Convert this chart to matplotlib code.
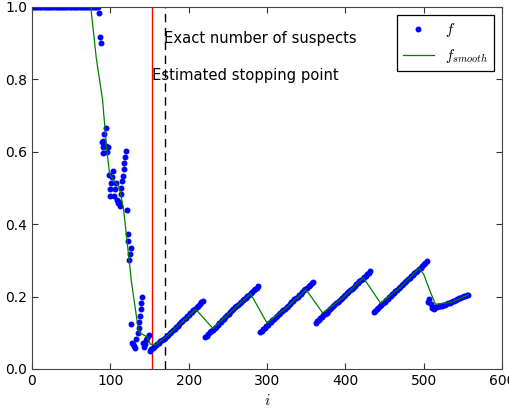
import matplotlib
matplotlib.use("Agg")
import matplotlib.pyplot as plt

# values
top_i = list(range(0, 86, 2))
top_f = [1.0] * len(top_i)

sparse_i = [85, 87, 88,
            89, 90, 90, 91, 92, 94, 95, 96, 97,
            98, 99, 100, 101, 102, 103, 105, 106, 107, 109, 110, 111, 112,
            113, 114, 115, 116, 117, 118, 119, 120, 121,
            122, 123, 124, 125, 126,
            126, 128, 129, 130, 131, 133, 135, 136, 137, 138, 139, 139, 140,
            142, 143, 144, 146, 147, 149]
sparse_f = [0.984, 0.918, 0.901,
            0.626, 0.596, 0.614, 0.629, 0.648, 0.665, 0.617, 0.600, 0.614,
            0.537, 0.479, 0.496, 0.515, 0.531, 0.548, 0.479, 0.496, 0.513, 0.467, 0.458, 0.462, 0.450,
            0.483, 0.500, 0.518, 0.534, 0.552, 0.568, 0.585, 0.603, 0.439,
            0.354, 0.373, 0.301, 0.318, 0.335,
            0.123, 0.073, 0.068, 0.064, 0.059, 0.082, 0.099, 0.114, 0.131, 0.147, 0.165, 0.183, 0.198,
            0.073, 0.062, 0.069, 0.080, 0.085, 0.094]

seg1_i = list(range(150, 219, 2))
seg1_f = [0.051, 0.054, 0.058, 0.061, 0.065, 0.068, 0.072, 0.076, 0.079, 0.083,
          0.087, 0.091, 0.095, 0.099, 0.103, 0.107, 0.111, 0.116, 0.120, 0.125,
          0.129, 0.133, 0.137, 0.141, 0.146, 0.150, 0.154, 0.158, 0.162, 0.166,
          0.170, 0.175, 0.179, 0.184, 0.188]

seg2_i = list(range(221, 290, 2))
seg2_f = [0.088, 0.092, 0.096, 0.101, 0.105, 0.109, 0.113, 0.117, 0.122, 0.126,
          0.130, 0.135, 0.139, 0.144, 0.148, 0.153, 0.157, 0.162, 0.166, 0.170,
          0.174, 0.178, 0.182, 0.186, 0.190, 0.194, 0.197, 0.201, 0.205, 0.209,
          0.213, 0.217, 0.221, 0.225, 0.229]

seg3_i = list(range(291, 360, 2))
seg3_f = [0.102, 0.106, 0.110, 0.114, 0.118, 0.122, 0.126, 0.130, 0.135, 0.139,
          0.143, 0.147, 0.151, 0.155, 0.159, 0.163, 0.167, 0.171, 0.175, 0.180,
          0.184, 0.188, 0.192, 0.196, 0.200, 0.204, 0.208, 0.213, 0.217, 0.221,
          0.225, 0.229, 0.233, 0.237, 0.241]

seg4_i = list(range(362, 433, 2))
seg4_f = [0.128, 0.132, 0.136, 0.140, 0.144, 0.148, 0.152, 0.156, 0.160, 0.165,
          0.169, 0.173, 0.177, 0.181, 0.185, 0.189, 0.193, 0.197, 0.201, 0.205,
          0.209, 0.213, 0.217, 0.221, 0.225, 0.229, 0.234, 0.238, 0.242, 0.246,
          0.250, 0.254, 0.258, 0.262, 0.266, 0.270]

seg5_i = list(range(436, 505, 2))
seg5_f = [0.157, 0.161, 0.165, 0.169, 0.173, 0.178, 0.182, 0.186, 0.190, 0.194,
          0.198, 0.202, 0.206, 0.211, 0.215, 0.219, 0.223, 0.227, 0.231, 0.235,
          0.239, 0.243, 0.248, 0.252, 0.256, 0.260, 0.264, 0.268, 0.272, 0.276,
          0.280, 0.285, 0.289, 0.293, 0.297]

blip_i = [506, 507, 509]
blip_f = [0.185, 0.192, 0.180]

seg6_i = list(range(511, 558, 2))
seg6_f = [0.168, 0.167, 0.170, 0.171, 0.173, 0.174, 0.175, 0.177, 0.178, 0.180,
          0.182, 0.183, 0.185, 0.187, 0.189, 0.191, 0.193, 0.195, 0.197, 0.199,
          0.201, 0.202, 0.204, 0.205]

smooth_i = [0, 75, 82, 90, 95.5, 99, 104, 111, 113, 117, 127, 135, 137, 147, 151, 157, 163, 170,
            190, 209, 231, 255, 279, 300, 325, 350, 371, 397, 423, 445, 470, 494,
            500, 506, 511, 515, 535, 557]
smooth_f = [1.0, 1.0, 0.86, 0.745, 0.605, 0.54, 0.522, 0.504, 0.485, 0.44, 0.24, 0.12, 0.10, 0.089,
            0.069, 0.066, 0.075, 0.087,
            0.126, 0.165, 0.112, 0.160, 0.208, 0.127, 0.170, 0.219, 0.155, 0.197, 0.252, 0.182,
            0.225, 0.278, 0.262, 0.227, 0.200, 0.179, 0.184, 0.205]

estimated_stop = 153
exact_suspects = 170

f_i = top_i + sparse_i + seg1_i + seg2_i + seg3_i + seg4_i + seg5_i + blip_i + seg6_i
f_val = top_f + sparse_f + seg1_f + seg2_f + seg3_f + seg4_f + seg5_f + blip_f + seg6_f

plt.rcParams["mathtext.fontset"] = "cm"
plt.rcParams["font.family"] = ["DejaVu Sans"]

fig = plt.figure(figsize=(5.10, 4.09), dpi=100)
ax = fig.add_axes([32 / 510, 40 / 409, 470 / 510, 362 / 409])

ax.axvline(estimated_stop, color="red", lw=1.0)
ax.axvline(exact_suspects, color="black", lw=1.0, ls=(0, (6, 4)))
ax.plot(f_i, f_val, "b.", ms=6.5, label="$f$")
ax.plot(smooth_i, smooth_f, color="green", lw=0.9, label="$f_{smooth}$")

ax.text(exact_suspects - 1.5, 0.912, "Exact number of suspects", fontsize=10.6, va="center", ha="left")
ax.text(estimated_stop + 0.5, 0.812, "Estimated stopping point", fontsize=10.6, va="center", ha="left")

ax.set_xlim(0, 600)
ax.set_ylim(0, 1.0)
ax.set_xticks(range(0, 601, 100))
ax.set_yticks([0.0, 0.2, 0.4, 0.6, 0.8, 1.0])
ax.set_yticklabels(["0.0", "0.2", "0.4", "0.6", "0.8", "1.0"])
ax.tick_params(direction="in", top=True, right=True, length=4, labelsize=10, colors="#333333",
               labelcolor="black")
for sp in ax.spines.values():
    sp.set_color("#444444")
ax.set_xlabel("$i$", fontsize=11)

leg = ax.legend(loc="upper right", numpoints=1, fancybox=False, framealpha=1,
                edgecolor="black", fontsize=10.8, borderpad=0.4, labelspacing=0.5,
                handlelength=2.1, handletextpad=0.7, borderaxespad=0.55)
leg.get_frame().set_linewidth(0.9)

fig.savefig("out.png", dpi=100)
